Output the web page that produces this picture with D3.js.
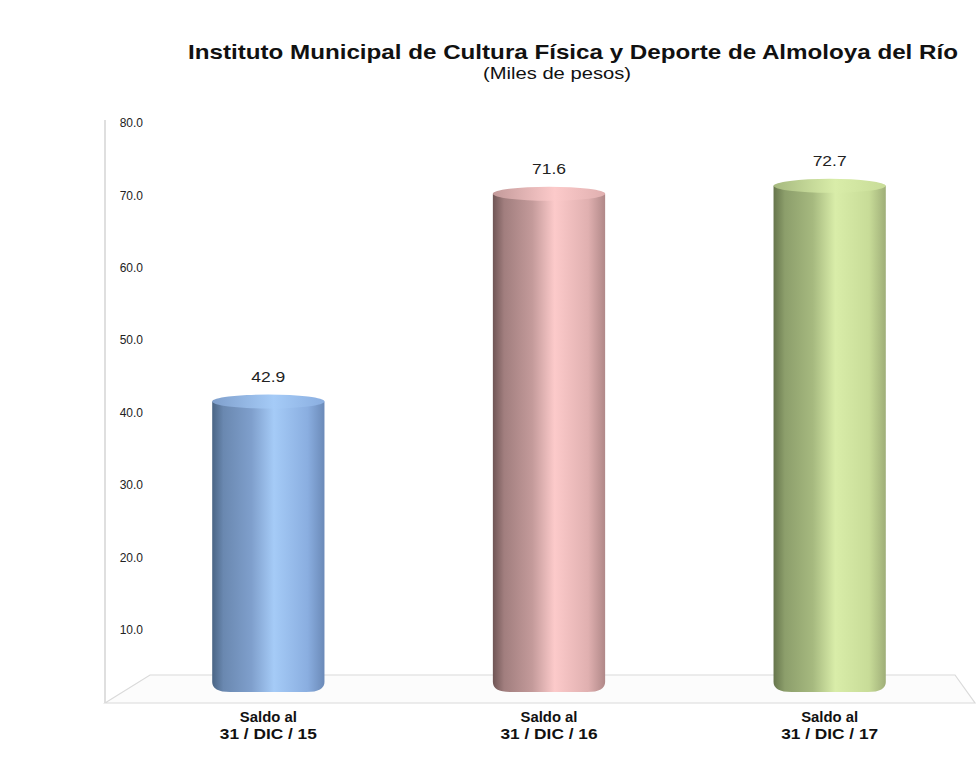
<!DOCTYPE html>
<html><head><meta charset="utf-8">
<script src="https://cdn.jsdelivr.net/npm/d3@7"></script>
<style>body{margin:0;background:#fff;} svg{display:block;font-family:"Liberation Sans",Arial,sans-serif;}</style>
</head><body>
<script>
const categories = [["Saldo al","31 / DIC / 15"],["Saldo al","31 / DIC / 16"],["Saldo al","31 / DIC / 17"]];
const values = [42.9, 71.6, 72.7];
const valueLabels = ["42.9","71.6","72.7"];
const tickValues = [10,20,30,40,50,60,70,80];
const barColors = [
  {left:"#4a6585", mid:"#7f9fcc", light:"#a5cbf7", right:"#8aaee0", redge:"#6b8ab8"},
  {left:"#6f5555", mid:"#c39a9a", light:"#fccaca", right:"#e0b0b0", redge:"#b08888"},
  {left:"#66754c", mid:"#a6b97f", light:"#d9eda9", right:"#c8dc98", redge:"#9fae78"}
];
const title = "Instituto Municipal de Cultura Física y Deporte de Almoloya del Río";
const subtitle = "(Miles de pesos)";

const W=978,H=757;
const svg=d3.select("body").append("svg").attr("width",W).attr("height",H);
const y=d3.scaleLinear().domain([0,80]).range([702,123]);
const x=d3.scaleBand().domain(d3.range(values.length)).range([128,970]).paddingInner(0.6).paddingOuter(0.3);

const defs=svg.append("defs");
barColors.forEach((c,i)=>{
  const g=defs.append("linearGradient").attr("id","g"+i).attr("x1","0").attr("x2","1").attr("y1","0").attr("y2","0");
  [[0,c.left],[0.1,d3.interpolateRgb(c.left,c.mid)(0.6)],[0.35,c.mid],[0.55,c.light],[0.85,c.right],[1,c.redge]]
    .forEach(([o,col])=>g.append("stop").attr("offset",o).attr("stop-color",col));
  const t=defs.append("linearGradient").attr("id","t"+i).attr("x1","0").attr("x2","1").attr("y1","0").attr("y2","0");
  [[0,c.mid],[0.55,c.light],[1,c.right]].forEach(([o,col])=>t.append("stop").attr("offset",o).attr("stop-color",col));
});

// title
svg.append("text").attr("x",573).attr("y",59).attr("text-anchor","middle").attr("font-size",21).attr("font-weight","bold").attr("fill","#111")
  .attr("textLength",770).attr("lengthAdjust","spacingAndGlyphs").text(title);
svg.append("text").attr("x",557).attr("y",79).attr("text-anchor","middle").attr("font-size",16).attr("fill","#111")
  .attr("textLength",148).attr("lengthAdjust","spacingAndGlyphs").text(subtitle);

// axis line
svg.append("line").attr("x1",105).attr("x2",105).attr("y1",120).attr("y2",703).attr("stroke","#d4d4d4").attr("stroke-width",1.5);
// floor
svg.append("path").attr("d","M105,703 L150,675 L955,675 L975,703 Z").attr("fill","#fcfcfc").attr("stroke","#dadada").attr("stroke-width",1.2);

// y tick labels
const ax=svg.append("g").attr("transform","translate(143,0)").call(d3.axisLeft(y).tickValues(tickValues).tickFormat(d3.format(".1f")).tickSize(0).tickPadding(0));
ax.select(".domain").remove();
ax.selectAll("text").attr("font-size",12).attr("fill","#222").attr("font-family","Liberation Sans, Arial, sans-serif");

// bars
const bottom=692, ry=7;
values.forEach((v,i)=>{
  const x0=x(i), bw=x.bandwidth(), top=y(v)+ry+3;
  const r=10;
  svg.append("path").attr("d",
    `M${x0},${top} L${x0},${bottom-r} Q${x0},${bottom} ${x0+r+8},${bottom} L${x0+bw-r-8},${bottom} Q${x0+bw},${bottom} ${x0+bw},${bottom-r} L${x0+bw},${top} Z`)
    .attr("fill",`url(#g${i})`);
  svg.append("ellipse").attr("cx",x0+bw/2).attr("cy",top).attr("rx",bw/2).attr("ry",ry).attr("fill",`url(#t${i})`);
  svg.append("text").attr("x",x0+bw/2).attr("y",y(v)-10).attr("text-anchor","middle").attr("font-size",14).attr("fill","#222")
    .attr("textLength",34).attr("lengthAdjust","spacingAndGlyphs").text(valueLabels[i]);
  categories[i].forEach((t,j)=>{
    svg.append("text").attr("x",x0+bw/2).attr("y",722+j*17).attr("text-anchor","middle").attr("font-size",14).attr("font-weight","bold").attr("fill","#111")
      .attr("textLength",j===0?57:97).attr("lengthAdjust","spacingAndGlyphs").text(t);
  });
});
</script>
</body></html>
